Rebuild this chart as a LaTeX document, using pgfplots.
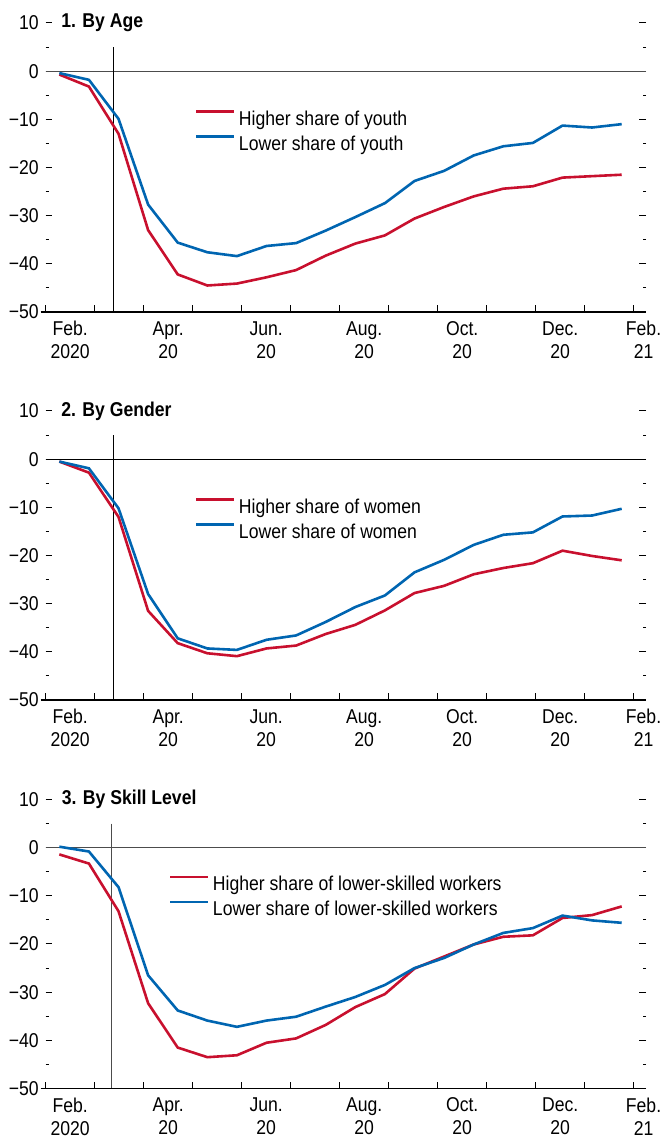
\documentclass[border=0pt]{standalone}
\usepackage{fontspec}
\setmainfont{Liberation Sans}[FakeStretch=0.88]
\usepackage{pgfplots}
\pgfplotsset{compat=1.18}
\definecolor{imfred}{RGB}{200,16,46}
\definecolor{imfblue}{RGB}{0,101,177}

\pgfplotsset{
 panel/.style={
  scale only axis, width=300.15pt, height=144.5pt,
  xmin=0, xmax=12.25, ymin=-50, ymax=10,
  clip=false,
  axis x line*=bottom, axis y line*=box,
  y axis line style={draw=none},
  x axis line style={-, line width=0.8pt, shorten <=-2.5pt},
  xtick={0,...,12}, xticklabels={},
  extra x ticks={0.5,2.5,4.5,6.5,8.5,10.5,12.2},
  extra x tick labels={{Feb.\\2020},{Apr.\\20},{Jun.\\20},{Aug.\\20},{Oct.\\20},{Dec.\\20},{Feb.\\21}},
  extra x tick style={tick style={draw=none}},
  xtick align=inside, ytick align=inside,
  ytick={-50,-40,...,10},
  yticklabels={−50,−40,−30,−20,−10,0,10},
  minor ytick={-45,-35,...,5},
  major tick length=3.3pt, minor tick length=1.4pt,
  tick style={black, line width=0.5pt},
  yticklabel pos=left,
  tick label style={font=\fontsize{10}{11.5}\selectfont},
  xticklabel style={align=center, yshift=-1.2pt},
  legend cell align=left,
  legend image code/.code={\draw[##1, line width=1.3pt] (0pt,3.2pt) -- (19pt,3.2pt);},
  legend style={draw=none, fill=none, anchor=north west, inner sep=0pt, outer sep=0pt,
    row sep=0pt, column sep=1.6pt,
    nodes={inner sep=0pt, text height=9.85pt, text depth=2.65pt, font=\fontsize{10}{12}\selectfont}},
 },
 red line/.style={imfred, line width=1.3pt},
 blue line/.style={imfblue, line width=1.3pt},
}

\begin{document}
\begin{tikzpicture}
\useasboundingbox (0,0) rectangle (331pt,569.5pt);

% Panel 1
\begin{axis}[panel, at={(22.85pt,413.5pt)}, anchor=south west,
  legend style={at={(axis description cs:0.249,0.7145)}}]
\addplot[black!70, line width=0.65pt, forget plot] coordinates {(0,0) (12.25,0)};
\addplot[black, line width=0.5pt, forget plot] coordinates {(1.39,5) (1.39,-50)};
\addplot[red line] coordinates {
(0.278,-0.7) (0.882,-3.2) (1.486,-13) (2.09,-33) (2.694,-42.2) (3.298,-44.5) (3.902,-44.1) (4.506,-42.8) (5.11,-41.3) (5.714,-38.3)
(6.318,-35.8) (6.922,-34.1) (7.526,-30.6) (8.13,-28.2) (8.734,-26) (9.338,-24.4) (9.942,-23.9) (10.546,-22.1) (11.15,-21.8) (11.754,-21.5)};
\addlegendentry{Higher share of youth}
\addplot[blue line] coordinates {
(0.278,-0.4) (0.882,-1.8) (1.486,-9.9) (2.09,-27.7) (2.694,-35.6) (3.298,-37.6) (3.902,-38.4) (4.506,-36.3) (5.11,-35.7) (5.714,-33.1)
(6.318,-30.3) (6.922,-27.4) (7.526,-22.8) (8.13,-20.7) (8.734,-17.5) (9.338,-15.6) (9.942,-14.9) (10.546,-11.3) (11.15,-11.7) (11.754,-11.0)};
\addlegendentry{Lower share of youth}
\node[anchor=west, inner sep=0pt, font=\bfseries\fontsize{10}{12}\selectfont] at (axis cs:0.31,10) {1. By Age};
\end{axis}

% Panel 2
\begin{axis}[panel, at={(22.85pt,219.5pt)}, anchor=south west,
  legend style={at={(axis description cs:0.249,0.7145)}}]
\addplot[black, line width=0.65pt, forget plot] coordinates {(0,0) (12.25,0)};
\addplot[black, line width=0.5pt, forget plot] coordinates {(1.39,5) (1.39,-50)};
\addplot[red line] coordinates {
(0.278,-0.5) (0.882,-2.8) (1.486,-12) (2.09,-31.5) (2.694,-38.2) (3.298,-40.3) (3.902,-40.9) (4.506,-39.3) (5.11,-38.7) (5.714,-36.3)
(6.318,-34.4) (6.922,-31.4) (7.526,-27.8) (8.13,-26.3) (8.734,-23.9) (9.338,-22.6) (9.942,-21.6) (10.546,-19.0) (11.15,-20.1) (11.754,-21.0)};
\addlegendentry{Higher share of women}
\addplot[blue line] coordinates {
(0.278,-0.5) (0.882,-1.9) (1.486,-10.2) (2.09,-28) (2.694,-37.2) (3.298,-39.3) (3.902,-39.6) (4.506,-37.5) (5.11,-36.6) (5.714,-33.8)
(6.318,-30.7) (6.922,-28.3) (7.526,-23.5) (8.13,-20.9) (8.734,-17.8) (9.338,-15.7) (9.942,-15.2) (10.546,-11.9) (11.15,-11.7) (11.754,-10.3)};
\addlegendentry{Lower share of women}
\node[anchor=west, inner sep=0pt, font=\bfseries\fontsize{10}{12}\selectfont] at (axis cs:0.31,10) {2. By Gender};
\end{axis}

% Panel 3
\begin{axis}[panel, at={(22.85pt,25.25pt)}, anchor=south west,
  legend style={at={(axis description cs:0.2057,0.7533)}}]
\addplot[black!70, line width=0.65pt, forget plot] coordinates {(0,0) (12.25,0)};
\addplot[black!70, line width=0.5pt, forget plot] coordinates {(1.35,5) (1.35,-50)};
\addplot[red line] coordinates {
(0.278,-1.4) (0.882,-3.3) (1.486,-13.2) (2.09,-32.3) (2.694,-41.5) (3.298,-43.5) (3.902,-43.1) (4.506,-40.5) (5.11,-39.6) (5.714,-36.8)
(6.318,-33.1) (6.922,-30.4) (7.526,-25.1) (8.13,-22.6) (8.734,-20.1) (9.338,-18.5) (9.942,-18.2) (10.546,-14.6) (11.15,-14.0) (11.754,-12.2)};
\addlegendentry{Higher share of lower-skilled workers}
\addplot[blue line] coordinates {
(0.278,0.2) (0.882,-0.8) (1.486,-8.2) (2.09,-26.5) (2.694,-33.8) (3.298,-35.9) (3.902,-37.2) (4.506,-35.9) (5.11,-35.1) (5.714,-33.0)
(6.318,-31.0) (6.922,-28.5) (7.526,-25.0) (8.13,-22.9) (8.734,-20.1) (9.338,-17.7) (9.942,-16.7) (10.546,-14.1) (11.15,-15.1) (11.754,-15.6)};
\addlegendentry{Lower share of lower-skilled workers}
\node[anchor=west, inner sep=0pt, font=\bfseries\fontsize{10}{12}\selectfont] at (axis cs:0.32,10) {3. By Skill Level};
\end{axis}
\end{tikzpicture}
\end{document}
